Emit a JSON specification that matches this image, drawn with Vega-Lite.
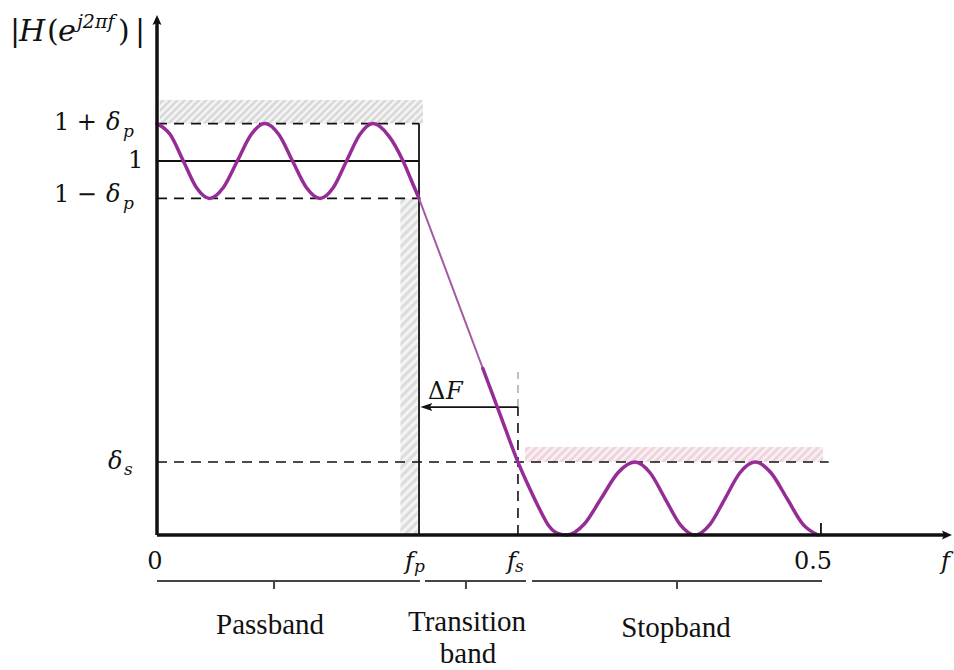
{
  "$schema": "https://vega.github.io/schema/vega-lite/v6.json",
  "width": 954,
  "height": 670,
  "padding": 0,
  "autosize": {"type": "none"},
  "background": "white",
  "config": {"view": {"stroke": null}},
  "datasets": {
    "zones": [
      {"zone": "pass", "x": 0.002, "x2": 0.2, "y": 1.1, "y2": 1.163},
      {"zone": "edge", "x": 0.183, "x2": 0.196, "y": 0, "y2": 0.9},
      {"zone": "stop", "x": 0.2767, "x2": 0.5008, "y": 0.195, "y2": 0.235}
    ],
    "curve": [
      {"seg": "pass", "x": 0, "y": 1.1},
      {"seg": "pass", "x": 0.0099, "y": 1.0707},
      {"seg": "pass", "x": 0.0198, "y": 1.0},
      {"seg": "pass", "x": 0.0296, "y": 0.9293},
      {"seg": "pass", "x": 0.0395, "y": 0.9},
      {"seg": "pass", "x": 0.0499, "y": 0.9293},
      {"seg": "pass", "x": 0.0604, "y": 1.0},
      {"seg": "pass", "x": 0.0708, "y": 1.0707},
      {"seg": "pass", "x": 0.0812, "y": 1.1},
      {"seg": "pass", "x": 0.0916, "y": 1.0707},
      {"seg": "pass", "x": 0.1019, "y": 1.0},
      {"seg": "pass", "x": 0.1123, "y": 0.9293},
      {"seg": "pass", "x": 0.1226, "y": 0.9},
      {"seg": "pass", "x": 0.1326, "y": 0.9293},
      {"seg": "pass", "x": 0.1425, "y": 1.0},
      {"seg": "pass", "x": 0.1525, "y": 1.0707},
      {"seg": "pass", "x": 0.1624, "y": 1.1},
      {"seg": "pass", "x": 0.1745, "y": 1.066},
      {"seg": "pass", "x": 0.185, "y": 1.0},
      {"seg": "pass", "x": 0.1915, "y": 0.946},
      {"seg": "pass", "x": 0.197, "y": 0.9},
      {"seg": "trans", "x": 0.197, "y": 0.9},
      {"seg": "trans", "x": 0.215, "y": 0.7294},
      {"seg": "trans", "x": 0.23, "y": 0.5873},
      {"seg": "trans", "x": 0.245, "y": 0.4452},
      {"seg": "stop", "x": 0.245, "y": 0.4452},
      {"seg": "stop", "x": 0.258, "y": 0.322},
      {"seg": "stop", "x": 0.2714, "y": 0.195},
      {"seg": "stop", "x": 0.2797, "y": 0.1283},
      {"seg": "stop", "x": 0.288, "y": 0.0668},
      {"seg": "stop", "x": 0.2947, "y": 0.0241},
      {"seg": "stop", "x": 0.3008, "y": 0.0053},
      {"seg": "stop", "x": 0.3083, "y": 0},
      {"seg": "stop", "x": 0.3211, "y": 0.0286},
      {"seg": "stop", "x": 0.3339, "y": 0.0975},
      {"seg": "stop", "x": 0.3466, "y": 0.1664},
      {"seg": "stop", "x": 0.3594, "y": 0.195},
      {"seg": "stop", "x": 0.3707, "y": 0.1664},
      {"seg": "stop", "x": 0.382, "y": 0.0975},
      {"seg": "stop", "x": 0.3932, "y": 0.0286},
      {"seg": "stop", "x": 0.4045, "y": 0},
      {"seg": "stop", "x": 0.4158, "y": 0.0286},
      {"seg": "stop", "x": 0.4271, "y": 0.0975},
      {"seg": "stop", "x": 0.4383, "y": 0.1664},
      {"seg": "stop", "x": 0.4496, "y": 0.195},
      {"seg": "stop", "x": 0.4616, "y": 0.1664},
      {"seg": "stop", "x": 0.4737, "y": 0.0975},
      {"seg": "stop", "x": 0.4857, "y": 0.0286},
      {"seg": "stop", "x": 0.497, "y": 0}
    ],
    "guides": [
      {"kind": "axis", "x": 0, "y": 0, "x2": 0, "y2": 1.38},
      {"kind": "axis", "x": 0, "y": 0, "x2": 0.594, "y2": 0},
      {"kind": "solid", "x": 0, "y": 1.0, "x2": 0.197, "y2": 1.0},
      {"kind": "solid", "x": 0.197, "y": 0, "x2": 0.197, "y2": 1.1},
      {"kind": "solid", "x": 0.202, "y": 0.342, "x2": 0.2714, "y2": 0.342},
      {"kind": "solid", "x": 0.4992, "y": 0, "x2": 0.4992, "y2": 0.032},
      {"kind": "dashed", "x": 0, "y": 1.1, "x2": 0.197, "y2": 1.1},
      {"kind": "dashed", "x": 0, "y": 0.9, "x2": 0.197, "y2": 0.9},
      {"kind": "dashed", "x": 0, "y": 0.195, "x2": 0.505, "y2": 0.195},
      {"kind": "dashed", "x": 0.2714, "y": 0, "x2": 0.2714, "y2": 0.342},
      {"kind": "faint", "x": 0.2714, "y": 0.342, "x2": 0.2714, "y2": 0.436},
      {"kind": "band", "x": 0, "y": -0.123, "x2": 0.1977, "y2": -0.123},
      {"kind": "band", "x": 0.2015, "y": -0.123, "x2": 0.2774, "y2": -0.123},
      {"kind": "band", "x": 0.282, "y": -0.123, "x2": 0.5, "y2": -0.123},
      {"kind": "band", "x": 0.088, "y": -0.123, "x2": 0.088, "y2": -0.1444},
      {"kind": "band", "x": 0.2323, "y": -0.123, "x2": 0.2323, "y2": -0.1444},
      {"kind": "band", "x": 0.391, "y": -0.123, "x2": 0.391, "y2": -0.1444}
    ],
    "heads": [
      {"dir": "up", "x": 0, "y": 1.3904},
      {"dir": "right", "x": 0.5977, "y": 0},
      {"dir": "left", "x": 0.198, "y": 0.342}
    ],
    "labels": [
      {"kind": "up", "text": "1 +", "x": -0.0775, "y": 1.1016},
      {"kind": "up", "text": "1", "x": -0.0218, "y": 1.0},
      {"kind": "up", "text": "1 −", "x": -0.0775, "y": 0.9091},
      {"kind": "up", "text": "Δ", "x": 0.2038, "y": 0.3824},
      {"kind": "num", "text": "0", "x": -0.0015, "y": -0.0722},
      {"kind": "num", "text": "0.5", "x": 0.4932, "y": -0.0722},
      {"kind": "it", "text": "δ", "x": -0.0383, "y": 1.1016},
      {"kind": "it", "text": "δ", "x": -0.0383, "y": 0.9091},
      {"kind": "it", "text": "δ", "x": -0.0368, "y": 0.195},
      {"kind": "it", "text": "f", "x": 0.1865, "y": -0.0722},
      {"kind": "it", "text": "f", "x": 0.2632, "y": -0.0722},
      {"kind": "it", "text": "f", "x": 0.5895, "y": -0.0722},
      {"kind": "it", "text": "F", "x": 0.2173, "y": 0.3824},
      {"kind": "sub", "text": "p", "x": -0.0255, "y": 1.0775},
      {"kind": "sub", "text": "p", "x": -0.0255, "y": 0.885},
      {"kind": "sub", "text": "s", "x": -0.0248, "y": 0.174},
      {"kind": "sub", "text": "p", "x": 0.1932, "y": -0.0856},
      {"kind": "sub", "text": "s", "x": 0.2692, "y": -0.0856},
      {"kind": "tup", "text": "|", "x": -0.1105, "y": 1.345},
      {"kind": "tup", "text": "(", "x": -0.0827, "y": 1.345},
      {"kind": "tup", "text": ")", "x": -0.0293, "y": 1.345},
      {"kind": "tup", "text": "|", "x": -0.0165, "y": 1.345},
      {"kind": "tit", "text": "H", "x": -0.1038, "y": 1.345},
      {"kind": "tit", "text": "e", "x": -0.0744, "y": 1.345},
      {"kind": "sup", "text": "j2πf", "x": -0.0602, "y": 1.372},
      {"kind": "band", "text": "Passband", "x": 0.085, "y": -0.2406},
      {"kind": "band", "text": "Transition", "x": 0.2331, "y": -0.2326},
      {"kind": "band", "text": "band", "x": 0.2338, "y": -0.318},
      {"kind": "band", "text": "Stopband", "x": 0.3902, "y": -0.2487}
    ]
  },
  "encoding": {
    "x": {"field": "x", "type": "quantitative", "scale": {"domain": [-0.11805, 0.59925], "nice": false, "zero": false}, "axis": null},
    "y": {"field": "y", "type": "quantitative", "scale": {"domain": [-0.361, 1.4305], "nice": false, "zero": false}, "axis": null}
  },
  "layer": [
    {
      "data": {"name": "zones"},
      "transform": [{"filter": "datum.zone === 'pass'"}],
      "mark": {"type": "rect", "strokeWidth": 0, "fill": {"gradient": "linear", "x1": 0, "y1": 0, "x2": 1.081, "y2": 0.0967, "stops": [
        {"offset": 0, "color": "#fafafa"}, {"offset": 0.0125, "color": "#d2d2d2"}, {"offset": 0.025, "color": "#fafafa"}, {"offset": 0.0375, "color": "#d2d2d2"},
        {"offset": 0.05, "color": "#fafafa"}, {"offset": 0.0625, "color": "#d2d2d2"}, {"offset": 0.075, "color": "#fafafa"}, {"offset": 0.0875, "color": "#d2d2d2"},
        {"offset": 0.1, "color": "#fafafa"}, {"offset": 0.1125, "color": "#d2d2d2"}, {"offset": 0.125, "color": "#fafafa"}, {"offset": 0.1375, "color": "#d2d2d2"},
        {"offset": 0.15, "color": "#fafafa"}, {"offset": 0.1625, "color": "#d2d2d2"}, {"offset": 0.175, "color": "#fafafa"}, {"offset": 0.1875, "color": "#d2d2d2"},
        {"offset": 0.2, "color": "#fafafa"}, {"offset": 0.2125, "color": "#d2d2d2"}, {"offset": 0.225, "color": "#fafafa"}, {"offset": 0.2375, "color": "#d2d2d2"},
        {"offset": 0.25, "color": "#fafafa"}, {"offset": 0.2625, "color": "#d2d2d2"}, {"offset": 0.275, "color": "#fafafa"}, {"offset": 0.2875, "color": "#d2d2d2"},
        {"offset": 0.3, "color": "#fafafa"}, {"offset": 0.3125, "color": "#d2d2d2"}, {"offset": 0.325, "color": "#fafafa"}, {"offset": 0.3375, "color": "#d2d2d2"},
        {"offset": 0.35, "color": "#fafafa"}, {"offset": 0.3625, "color": "#d2d2d2"}, {"offset": 0.375, "color": "#fafafa"}, {"offset": 0.3875, "color": "#d2d2d2"},
        {"offset": 0.4, "color": "#fafafa"}, {"offset": 0.4125, "color": "#d2d2d2"}, {"offset": 0.425, "color": "#fafafa"}, {"offset": 0.4375, "color": "#d2d2d2"},
        {"offset": 0.45, "color": "#fafafa"}, {"offset": 0.4625, "color": "#d2d2d2"}, {"offset": 0.475, "color": "#fafafa"}, {"offset": 0.4875, "color": "#d2d2d2"},
        {"offset": 0.5, "color": "#fafafa"}, {"offset": 0.5125, "color": "#d2d2d2"}, {"offset": 0.525, "color": "#fafafa"}, {"offset": 0.5375, "color": "#d2d2d2"},
        {"offset": 0.55, "color": "#fafafa"}, {"offset": 0.5625, "color": "#d2d2d2"}, {"offset": 0.575, "color": "#fafafa"}, {"offset": 0.5875, "color": "#d2d2d2"},
        {"offset": 0.6, "color": "#fafafa"}, {"offset": 0.6125, "color": "#d2d2d2"}, {"offset": 0.625, "color": "#fafafa"}, {"offset": 0.6375, "color": "#d2d2d2"},
        {"offset": 0.65, "color": "#fafafa"}, {"offset": 0.6625, "color": "#d2d2d2"}, {"offset": 0.675, "color": "#fafafa"}, {"offset": 0.6875, "color": "#d2d2d2"},
        {"offset": 0.7, "color": "#fafafa"}, {"offset": 0.7125, "color": "#d2d2d2"}, {"offset": 0.725, "color": "#fafafa"}, {"offset": 0.7375, "color": "#d2d2d2"},
        {"offset": 0.75, "color": "#fafafa"}, {"offset": 0.7625, "color": "#d2d2d2"}, {"offset": 0.775, "color": "#fafafa"}, {"offset": 0.7875, "color": "#d2d2d2"},
        {"offset": 0.8, "color": "#fafafa"}, {"offset": 0.8125, "color": "#d2d2d2"}, {"offset": 0.825, "color": "#fafafa"}, {"offset": 0.8375, "color": "#d2d2d2"},
        {"offset": 0.85, "color": "#fafafa"}, {"offset": 0.8625, "color": "#d2d2d2"}, {"offset": 0.875, "color": "#fafafa"}, {"offset": 0.8875, "color": "#d2d2d2"},
        {"offset": 0.9, "color": "#fafafa"}, {"offset": 0.9125, "color": "#d2d2d2"}, {"offset": 0.925, "color": "#fafafa"}, {"offset": 0.9375, "color": "#d2d2d2"},
        {"offset": 0.95, "color": "#fafafa"}, {"offset": 0.9625, "color": "#d2d2d2"}, {"offset": 0.975, "color": "#fafafa"}, {"offset": 0.9875, "color": "#d2d2d2"},
        {"offset": 1, "color": "#fafafa"}
      ]}},
      "encoding": {"x2": {"field": "x2"}, "y2": {"field": "y2"}}
    },
    {
      "data": {"name": "zones"},
      "transform": [{"filter": "datum.zone === 'edge'"}],
      "mark": {"type": "rect", "strokeWidth": 0, "fill": {"gradient": "linear", "x1": 0, "y1": 0, "x2": 0.0539, "y2": 1.0485, "stops": [
        {"offset": 0, "color": "#fafafa"}, {"offset": 0.0125, "color": "#d6d6d6"}, {"offset": 0.025, "color": "#fafafa"}, {"offset": 0.0375, "color": "#d6d6d6"},
        {"offset": 0.05, "color": "#fafafa"}, {"offset": 0.0625, "color": "#d6d6d6"}, {"offset": 0.075, "color": "#fafafa"}, {"offset": 0.0875, "color": "#d6d6d6"},
        {"offset": 0.1, "color": "#fafafa"}, {"offset": 0.1125, "color": "#d6d6d6"}, {"offset": 0.125, "color": "#fafafa"}, {"offset": 0.1375, "color": "#d6d6d6"},
        {"offset": 0.15, "color": "#fafafa"}, {"offset": 0.1625, "color": "#d6d6d6"}, {"offset": 0.175, "color": "#fafafa"}, {"offset": 0.1875, "color": "#d6d6d6"},
        {"offset": 0.2, "color": "#fafafa"}, {"offset": 0.2125, "color": "#d6d6d6"}, {"offset": 0.225, "color": "#fafafa"}, {"offset": 0.2375, "color": "#d6d6d6"},
        {"offset": 0.25, "color": "#fafafa"}, {"offset": 0.2625, "color": "#d6d6d6"}, {"offset": 0.275, "color": "#fafafa"}, {"offset": 0.2875, "color": "#d6d6d6"},
        {"offset": 0.3, "color": "#fafafa"}, {"offset": 0.3125, "color": "#d6d6d6"}, {"offset": 0.325, "color": "#fafafa"}, {"offset": 0.3375, "color": "#d6d6d6"},
        {"offset": 0.35, "color": "#fafafa"}, {"offset": 0.3625, "color": "#d6d6d6"}, {"offset": 0.375, "color": "#fafafa"}, {"offset": 0.3875, "color": "#d6d6d6"},
        {"offset": 0.4, "color": "#fafafa"}, {"offset": 0.4125, "color": "#d6d6d6"}, {"offset": 0.425, "color": "#fafafa"}, {"offset": 0.4375, "color": "#d6d6d6"},
        {"offset": 0.45, "color": "#fafafa"}, {"offset": 0.4625, "color": "#d6d6d6"}, {"offset": 0.475, "color": "#fafafa"}, {"offset": 0.4875, "color": "#d6d6d6"},
        {"offset": 0.5, "color": "#fafafa"}, {"offset": 0.5125, "color": "#d6d6d6"}, {"offset": 0.525, "color": "#fafafa"}, {"offset": 0.5375, "color": "#d6d6d6"},
        {"offset": 0.55, "color": "#fafafa"}, {"offset": 0.5625, "color": "#d6d6d6"}, {"offset": 0.575, "color": "#fafafa"}, {"offset": 0.5875, "color": "#d6d6d6"},
        {"offset": 0.6, "color": "#fafafa"}, {"offset": 0.6125, "color": "#d6d6d6"}, {"offset": 0.625, "color": "#fafafa"}, {"offset": 0.6375, "color": "#d6d6d6"},
        {"offset": 0.65, "color": "#fafafa"}, {"offset": 0.6625, "color": "#d6d6d6"}, {"offset": 0.675, "color": "#fafafa"}, {"offset": 0.6875, "color": "#d6d6d6"},
        {"offset": 0.7, "color": "#fafafa"}, {"offset": 0.7125, "color": "#d6d6d6"}, {"offset": 0.725, "color": "#fafafa"}, {"offset": 0.7375, "color": "#d6d6d6"},
        {"offset": 0.75, "color": "#fafafa"}, {"offset": 0.7625, "color": "#d6d6d6"}, {"offset": 0.775, "color": "#fafafa"}, {"offset": 0.7875, "color": "#d6d6d6"},
        {"offset": 0.8, "color": "#fafafa"}, {"offset": 0.8125, "color": "#d6d6d6"}, {"offset": 0.825, "color": "#fafafa"}, {"offset": 0.8375, "color": "#d6d6d6"},
        {"offset": 0.85, "color": "#fafafa"}, {"offset": 0.8625, "color": "#d6d6d6"}, {"offset": 0.875, "color": "#fafafa"}, {"offset": 0.8875, "color": "#d6d6d6"},
        {"offset": 0.9, "color": "#fafafa"}, {"offset": 0.9125, "color": "#d6d6d6"}, {"offset": 0.925, "color": "#fafafa"}, {"offset": 0.9375, "color": "#d6d6d6"},
        {"offset": 0.95, "color": "#fafafa"}, {"offset": 0.9625, "color": "#d6d6d6"}, {"offset": 0.975, "color": "#fafafa"}, {"offset": 0.9875, "color": "#d6d6d6"},
        {"offset": 1, "color": "#fafafa"}
      ]}},
      "encoding": {"x2": {"field": "x2"}, "y2": {"field": "y2"}}
    },
    {
      "data": {"name": "zones"},
      "transform": [{"filter": "datum.zone === 'stop'"}],
      "mark": {"type": "rect", "strokeWidth": 0, "fill": {"gradient": "linear", "x1": 0, "y1": 0, "x2": 1.0475, "y2": 0.0526, "stops": [
        {"offset": 0, "color": "#fcf5f7"}, {"offset": 0.0125, "color": "#ebcdd6"}, {"offset": 0.025, "color": "#fcf5f7"}, {"offset": 0.0375, "color": "#ebcdd6"},
        {"offset": 0.05, "color": "#fcf5f7"}, {"offset": 0.0625, "color": "#ebcdd6"}, {"offset": 0.075, "color": "#fcf5f7"}, {"offset": 0.0875, "color": "#ebcdd6"},
        {"offset": 0.1, "color": "#fcf5f7"}, {"offset": 0.1125, "color": "#ebcdd6"}, {"offset": 0.125, "color": "#fcf5f7"}, {"offset": 0.1375, "color": "#ebcdd6"},
        {"offset": 0.15, "color": "#fcf5f7"}, {"offset": 0.1625, "color": "#ebcdd6"}, {"offset": 0.175, "color": "#fcf5f7"}, {"offset": 0.1875, "color": "#ebcdd6"},
        {"offset": 0.2, "color": "#fcf5f7"}, {"offset": 0.2125, "color": "#ebcdd6"}, {"offset": 0.225, "color": "#fcf5f7"}, {"offset": 0.2375, "color": "#ebcdd6"},
        {"offset": 0.25, "color": "#fcf5f7"}, {"offset": 0.2625, "color": "#ebcdd6"}, {"offset": 0.275, "color": "#fcf5f7"}, {"offset": 0.2875, "color": "#ebcdd6"},
        {"offset": 0.3, "color": "#fcf5f7"}, {"offset": 0.3125, "color": "#ebcdd6"}, {"offset": 0.325, "color": "#fcf5f7"}, {"offset": 0.3375, "color": "#ebcdd6"},
        {"offset": 0.35, "color": "#fcf5f7"}, {"offset": 0.3625, "color": "#ebcdd6"}, {"offset": 0.375, "color": "#fcf5f7"}, {"offset": 0.3875, "color": "#ebcdd6"},
        {"offset": 0.4, "color": "#fcf5f7"}, {"offset": 0.4125, "color": "#ebcdd6"}, {"offset": 0.425, "color": "#fcf5f7"}, {"offset": 0.4375, "color": "#ebcdd6"},
        {"offset": 0.45, "color": "#fcf5f7"}, {"offset": 0.4625, "color": "#ebcdd6"}, {"offset": 0.475, "color": "#fcf5f7"}, {"offset": 0.4875, "color": "#ebcdd6"},
        {"offset": 0.5, "color": "#fcf5f7"}, {"offset": 0.5125, "color": "#ebcdd6"}, {"offset": 0.525, "color": "#fcf5f7"}, {"offset": 0.5375, "color": "#ebcdd6"},
        {"offset": 0.55, "color": "#fcf5f7"}, {"offset": 0.5625, "color": "#ebcdd6"}, {"offset": 0.575, "color": "#fcf5f7"}, {"offset": 0.5875, "color": "#ebcdd6"},
        {"offset": 0.6, "color": "#fcf5f7"}, {"offset": 0.6125, "color": "#ebcdd6"}, {"offset": 0.625, "color": "#fcf5f7"}, {"offset": 0.6375, "color": "#ebcdd6"},
        {"offset": 0.65, "color": "#fcf5f7"}, {"offset": 0.6625, "color": "#ebcdd6"}, {"offset": 0.675, "color": "#fcf5f7"}, {"offset": 0.6875, "color": "#ebcdd6"},
        {"offset": 0.7, "color": "#fcf5f7"}, {"offset": 0.7125, "color": "#ebcdd6"}, {"offset": 0.725, "color": "#fcf5f7"}, {"offset": 0.7375, "color": "#ebcdd6"},
        {"offset": 0.75, "color": "#fcf5f7"}, {"offset": 0.7625, "color": "#ebcdd6"}, {"offset": 0.775, "color": "#fcf5f7"}, {"offset": 0.7875, "color": "#ebcdd6"},
        {"offset": 0.8, "color": "#fcf5f7"}, {"offset": 0.8125, "color": "#ebcdd6"}, {"offset": 0.825, "color": "#fcf5f7"}, {"offset": 0.8375, "color": "#ebcdd6"},
        {"offset": 0.85, "color": "#fcf5f7"}, {"offset": 0.8625, "color": "#ebcdd6"}, {"offset": 0.875, "color": "#fcf5f7"}, {"offset": 0.8875, "color": "#ebcdd6"},
        {"offset": 0.9, "color": "#fcf5f7"}, {"offset": 0.9125, "color": "#ebcdd6"}, {"offset": 0.925, "color": "#fcf5f7"}, {"offset": 0.9375, "color": "#ebcdd6"},
        {"offset": 0.95, "color": "#fcf5f7"}, {"offset": 0.9625, "color": "#ebcdd6"}, {"offset": 0.975, "color": "#fcf5f7"}, {"offset": 0.9875, "color": "#ebcdd6"},
        {"offset": 1, "color": "#fcf5f7"}
      ]}},
      "encoding": {"x2": {"field": "x2"}, "y2": {"field": "y2"}}
    },
    {
      "data": {"name": "guides"},
      "transform": [{"filter": "datum.kind === 'band'"}],
      "mark": {"type": "rule", "color": "#444", "strokeWidth": 2},
      "encoding": {"x2": {"field": "x2"}, "y2": {"field": "y2"}}
    },
    {
      "data": {"name": "guides"},
      "transform": [{"filter": "datum.kind === 'faint'"}],
      "mark": {"type": "rule", "color": "#b0b0b0", "strokeWidth": 1.6, "strokeDash": [8, 6]},
      "encoding": {"x2": {"field": "x2"}, "y2": {"field": "y2"}}
    },
    {
      "data": {"name": "guides"},
      "transform": [{"filter": "datum.kind === 'dashed'"}],
      "mark": {"type": "rule", "color": "#111", "strokeWidth": 1.6, "strokeDash": [10, 7]},
      "encoding": {"x2": {"field": "x2"}, "y2": {"field": "y2"}}
    },
    {
      "data": {"name": "guides"},
      "transform": [{"filter": "datum.kind === 'solid'"}],
      "mark": {"type": "rule", "color": "#111", "strokeWidth": 1.8},
      "encoding": {"x2": {"field": "x2"}, "y2": {"field": "y2"}}
    },
    {
      "data": {"name": "curve"},
      "transform": [{"filter": "datum.seg === 'trans'"}],
      "mark": {"type": "line", "color": "#a45aa4", "strokeWidth": 2, "interpolate": "monotone"}
    },
    {
      "data": {"name": "curve"},
      "transform": [{"filter": "datum.seg !== 'trans'"}],
      "mark": {"type": "line", "color": "#962d96", "strokeWidth": 3.5, "interpolate": "monotone", "strokeCap": "round"},
      "encoding": {"detail": {"field": "seg", "type": "nominal"}}
    },
    {
      "data": {"name": "guides"},
      "transform": [{"filter": "datum.kind === 'axis'"}],
      "mark": {"type": "rule", "color": "#111", "strokeWidth": 3.5},
      "encoding": {"x2": {"field": "x2"}, "y2": {"field": "y2"}}
    },
    {
      "data": {"name": "heads"},
      "mark": {"type": "point", "filled": true, "color": "#111", "opacity": 1, "size": 100, "strokeWidth": 0},
      "encoding": {
        "shape": {"field": "dir", "type": "nominal", "legend": null, "scale": {"domain": ["up", "right", "left"], "range": ["M0,0 L0.9,2 L0,1.6 L-0.9,2 Z", "M0,0 L-2,-0.9 L-1.6,0 L-2,0.9 Z", "M0,0 L2.4,-0.8 L1.9,0 L2.4,0.8 Z"]}}
      }
    },
    {
      "data": {"name": "labels"},
      "transform": [{"filter": "datum.kind === 'up'"}],
      "mark": {"type": "text", "font": "DejaVu Serif", "fontSize": 24, "align": "left", "baseline": "middle", "color": "#111"},
      "encoding": {"text": {"field": "text"}}
    },
    {
      "data": {"name": "labels"},
      "transform": [{"filter": "datum.kind === 'num'"}],
      "mark": {"type": "text", "font": "DejaVu Serif", "fontSize": 24, "align": "center", "baseline": "middle", "color": "#111"},
      "encoding": {"text": {"field": "text"}}
    },
    {
      "data": {"name": "labels"},
      "transform": [{"filter": "datum.kind === 'it'"}],
      "mark": {"type": "text", "font": "DejaVu Serif", "fontStyle": "italic", "fontSize": 24, "align": "left", "baseline": "middle", "color": "#111"},
      "encoding": {"text": {"field": "text"}}
    },
    {
      "data": {"name": "labels"},
      "transform": [{"filter": "datum.kind === 'sub'"}],
      "mark": {"type": "text", "font": "DejaVu Serif", "fontStyle": "italic", "fontSize": 17, "align": "left", "baseline": "middle", "color": "#111"},
      "encoding": {"text": {"field": "text"}}
    },
    {
      "data": {"name": "labels"},
      "transform": [{"filter": "datum.kind === 'tup'"}],
      "mark": {"type": "text", "font": "DejaVu Serif", "fontSize": 30, "align": "left", "baseline": "middle", "color": "#111"},
      "encoding": {"text": {"field": "text"}}
    },
    {
      "data": {"name": "labels"},
      "transform": [{"filter": "datum.kind === 'tit'"}],
      "mark": {"type": "text", "font": "DejaVu Serif", "fontStyle": "italic", "fontSize": 30, "align": "left", "baseline": "middle", "color": "#111"},
      "encoding": {"text": {"field": "text"}}
    },
    {
      "data": {"name": "labels"},
      "transform": [{"filter": "datum.kind === 'sup'"}],
      "mark": {"type": "text", "font": "DejaVu Serif", "fontStyle": "italic", "fontSize": 19, "align": "left", "baseline": "middle", "color": "#111"},
      "encoding": {"text": {"field": "text"}}
    },
    {
      "data": {"name": "labels"},
      "transform": [{"filter": "datum.kind === 'band'"}],
      "mark": {"type": "text", "font": "Liberation Serif", "fontSize": 29, "align": "center", "baseline": "middle", "color": "#111"},
      "encoding": {"text": {"field": "text"}}
    }
  ]
}
